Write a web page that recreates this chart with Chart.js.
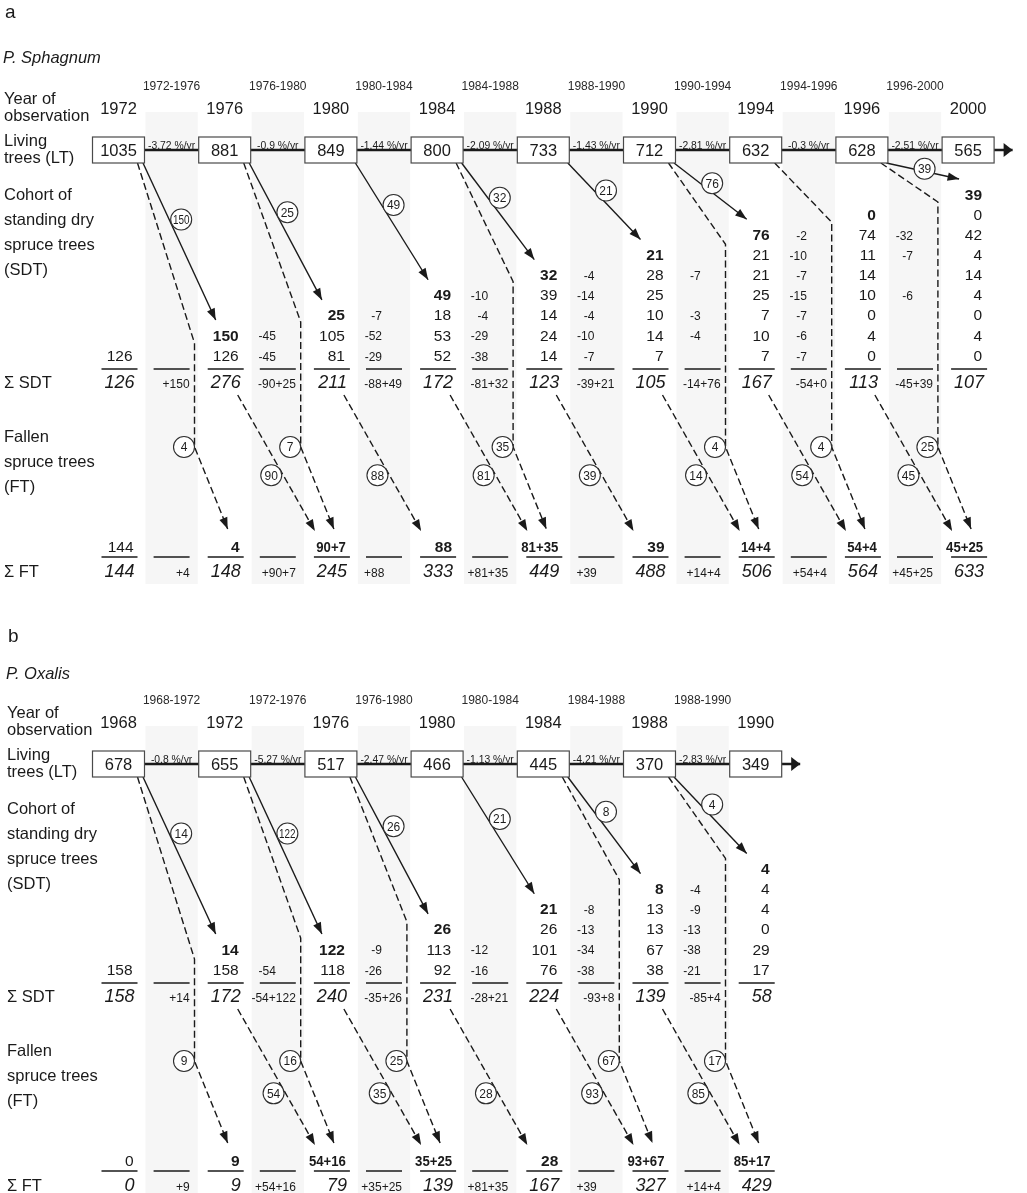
<!DOCTYPE html>
<html>
<head>
<meta charset="utf-8">
<title>Spruce tree dynamics</title>
<script src="https://cdn.jsdelivr.net/npm/chart.js@4/dist/chart.umd.min.js"></script>
<style>
  html, body { margin: 0; padding: 0; background: #fff; }
  #wrap { width: 1027px; height: 1193px; }
</style>
</head>
<body>
<div id="wrap"><canvas id="chart" width="1027" height="1193"></canvas></div>
<script>
// ---------- Plot a: P. Sphagnum ----------
const sphYears   = ['1972', '1976', '1980', '1984', '1988', '1990', '1994', '1996', '2000'];
const sphPeriods = ['1972-1976', '1976-1980', '1980-1984', '1984-1988', '1988-1990', '1990-1994', '1994-1996', '1996-2000'];
const sphLiving  = [1035, 881, 849, 800, 733, 712, 632, 628, 565];
const sphRates   = ['-3,72 %/yr', '-0,9 %/yr', '-1,44 %/yr', '-2,09 %/yr', '-1,43 %/yr', '-2,81 %/yr', '-0,3 %/yr', '-2,51 %/yr'];
// living trees that died standing in each period (new SDT cohort)
const sphNewDry     = [150, 25, 49, 32, 21, 76, 0, 39];
// living trees that fell directly in each period
const sphDirectFall = [4, 7, null, 35, null, 4, 4, 25];
// standing dry trees that fell in each period
const sphDryFall    = [null, 90, 88, 81, 39, 14, 54, 45];
// older SDT cohorts still standing in each year (last entry = oldest cohort)
const sphCohorts = [
  [126], [126], [105, 81], [18, 53, 52], [39, 14, 24, 14], [28, 25, 10, 14, 7],
  [21, 21, 25, 7, 10, 7], [74, 11, 14, 10, 0, 4, 0], [0, 42, 4, 14, 4, 0, 4, 0]
];
// losses of each cohort during a period (last entry = oldest cohort)
const sphCohortLoss = [
  [], [-45, -45], [-7, -52, -29], [-10, -4, -29, -38], [-4, -14, -4, -10, -7],
  [-7, null, -3, -4, null], [-2, -10, -7, -15, -7, -6, -7], [-32, -7, null, -6, null, null, null]
];
const sphDrySum      = [126, 276, 211, 172, 123, 105, 167, 113, 107];
const sphDryBalance  = ['+150', '-90+25', '-88+49', '-81+32', '-39+21', '-14+76', '-54+0', '-45+39'];
const sphFallenStart = 144;
const sphFallenSum   = [144, 148, 245, 333, 449, 488, 506, 564, 633];
const sphFallenAdded = ['+4', '+90+7', '+88', '+81+35', '+39', '+14+4', '+54+4', '+45+25'];

// ---------- Plot b: P. Oxalis ----------
const oxYears   = ['1968', '1972', '1976', '1980', '1984', '1988', '1990'];
const oxPeriods = ['1968-1972', '1972-1976', '1976-1980', '1980-1984', '1984-1988', '1988-1990'];
const oxLiving  = [678, 655, 517, 466, 445, 370, 349];
const oxRates   = ['-0,8 %/yr', '-5,27 %/yr', '-2,47 %/yr', '-1,13 %/yr', '-4,21 %/yr', '-2,83 %/yr'];
const oxNewDry     = [14, 122, 26, 21, 8, 4];
const oxDirectFall = [9, 16, 25, null, 67, 17];
const oxDryFall    = [null, 54, 35, 28, 93, 85];
const oxCohorts = [
  [158], [158], [118], [113, 92], [26, 101, 76], [13, 13, 67, 38], [4, 4, 0, 29, 17]
];
const oxCohortLoss = [
  [], [-54], [-9, -26], [-12, -16], [-8, -13, -34, -38], [-4, -9, -13, -38, -21]
];
const oxDrySum      = [158, 172, 240, 231, 224, 139, 58];
const oxDryBalance  = ['+14', '-54+122', '-35+26', '-28+21', '-93+8', '-85+4'];
const oxFallenStart = 0;
const oxFallenSum   = [0, 9, 79, 139, 167, 327, 429];
const oxFallenAdded = ['+9', '+54+16', '+35+25', '+81+35', '+39', '+14+4'];

// row captions on the left
const rowTitles = ['Year of', 'observation', 'Living', 'trees (LT)', 'Cohort of', 'standing dry',
                   'spruce trees', '(SDT)', '\u03A3 SDT', 'Fallen', 'spruce trees', '(FT)', '\u03A3 FT'];

// ---------- layout ----------
const W = 1027, H = 1193;
const FONT = '"Liberation Sans", Arial, Helvetica, sans-serif';
const INK = '#1a1a1a';
const PX = 106.2;          // pixel width of one observation column
const X0 = 118.5;          // pixel centre of the first observation column
const ROW0 = 194, ROWH = 20.15;
const titleY = [98, 115, 140, 157, 194, 219, 244, 269, 382, 436, 461, 486, 571];

const panels = [
  { letter: 'a', letterX: 5, letterY: 18, site: 'P. Sphagnum', siteX: 3, siteY: 57, top: 0, labelX: 4,
    years: sphYears, periods: sphPeriods, living: sphLiving, rates: sphRates,
    newDry: sphNewDry, directFall: sphDirectFall, dryFall: sphDryFall,
    cohorts: sphCohorts, loss: sphCohortLoss, drySum: sphDrySum, dryBalance: sphDryBalance,
    fallenStart: sphFallenStart, fallenSum: sphFallenSum, fallenAdded: sphFallenAdded,
    bend: [8, 7, 8, 7, 8, 10, 8, 8], addedLeft: [2, 4], fallCircle: 0.59 },
  { letter: 'b', letterX: 8, letterY: 642, site: 'P. Oxalis', siteX: 6, siteY: 673, top: 614, labelX: 7,
    years: oxYears, periods: oxPeriods, living: oxLiving, rates: oxRates,
    newDry: oxNewDry, directFall: oxDirectFall, dryFall: oxDryFall,
    cohorts: oxCohorts, loss: oxCohortLoss, drySum: oxDrySum, dryBalance: oxDryBalance,
    fallenStart: oxFallenStart, fallenSum: oxFallenSum, fallenAdded: oxFallenAdded,
    bend: [10, -11, -7, 0, -9, -10], addedLeft: [4], fallCircle: 0.62 }
];

// x values are in column units: column i sits at i, a period between i and i+1 at i+0.5
const xv = (i, px) => i + (px || 0) / PX;
const rowY = (p, k) => p.top + ROW0 + ROWH * k;
const newRow = (p, j) => 8 - p.cohorts[j].length;   // row of the newest cohort in column j

function lineSet(points, o) {
  return {
    data: points, showLine: true, pointRadius: 0, pointHitRadius: 0,
    borderColor: INK, borderWidth: o.width || 1.4, borderDash: o.dash ? [7, 3.5] : [],
    fill: false, tension: 0, order: 2, head: o.head || null
  };
}

const datasets = [];
const circles = [];
panels.forEach(p => {
  const t = p.top, n = p.years.length;
  // living-tree time axis
  datasets.push(lineSet([{ x: xv(0), y: t + 150 }, { x: xv(n - 1, 44.5), y: t + 150 }], { width: 2.6, head: 'axis' }));
  for (let i = 0; i < n - 1; i++) {
    const by = rowY(p, newRow(p, i + 1));
    if (p.newDry[i] > 0) {
      const a = { x: xv(i, 24.5), y: t + 163 }, b = { x: xv(i + 1, -9), y: by - 15 };
      datasets.push(lineSet([a, b], { head: 'arrow' }));
      circles.push({ x: a.x + 0.36 * (b.x - a.x) + 12 / PX, y: a.y + 0.36 * (b.y - a.y), label: p.newDry[i] });
    }
    if (p.directFall[i] != null) {
      const bx = xv(i, 76);
      datasets.push(lineSet([
        { x: xv(i, 19), y: t + 163 }, { x: bx, y: by + p.bend[i] },
        { x: bx, y: t + 447 }, { x: xv(i + 1, 3), y: t + 529 }
      ], { dash: true, head: 'arrow' }));
      circles.push({ x: xv(i, 65.5), y: t + 447, label: p.directFall[i] });
    }
    if (p.dryFall[i] != null) {
      const a = { x: xv(i, 13), y: t + 395 }, b = { x: xv(i + 1, -16), y: t + 531 };
      datasets.push(lineSet([a, b], { dash: true, head: 'arrow' }));
      const f = p.fallCircle;
      circles.push({ x: a.x + f * (b.x - a.x) - 12 / PX, y: a.y + f * (b.y - a.y), label: p.dryFall[i] });
    }
  }
});
datasets.push({
  data: circles, showLine: false, pointRadius: 10.5, pointHoverRadius: 10.5,
  pointBackgroundColor: '#fff', pointBorderColor: '#2e2e2e', pointBorderWidth: 1.1, order: 0
});

function txt(ctx, s, x, y, o) {
  o = o || {};
  const size = o.size || 16;
  ctx.save();
  ctx.font = (o.italic ? 'italic ' : '') + (o.bold ? 'bold ' : '') + size + 'px ' + FONT;
  ctx.fillStyle = o.color || INK;
  ctx.textAlign = o.align || 'center';
  ctx.textBaseline = 'alphabetic';
  let sq = o.squeeze || 1;
  if (o.maxW) {
    const w = ctx.measureText(String(s)).width;
    if (w > o.maxW) sq = o.maxW / w;
  }
  ctx.translate(x, o.baseline ? y : y + size * 0.36);
  if (sq !== 1) ctx.scale(sq, 1);
  ctx.fillText(String(s), 0, 0);
  ctx.restore();
}

function hline(ctx, x1, x2, y) {
  ctx.save();
  ctx.strokeStyle = INK; ctx.lineWidth = 1.5;
  ctx.beginPath(); ctx.moveTo(x1, y); ctx.lineTo(x2, y); ctx.stroke();
  ctx.restore();
}

function head(ctx, x1, y1, x2, y2, len, half) {
  const dx = x2 - x1, dy = y2 - y1, d = Math.hypot(dx, dy);
  const ux = dx / d, uy = dy / d;
  ctx.save();
  ctx.fillStyle = INK;
  ctx.beginPath();
  ctx.moveTo(x2, y2);
  ctx.lineTo(x2 - len * ux - half * uy, y2 - len * uy + half * ux);
  ctx.lineTo(x2 - len * ux + half * uy, y2 - len * uy - half * ux);
  ctx.closePath();
  ctx.fill();
  ctx.restore();
}

const diagram = {
  id: 'diagram',
  beforeDatasetsDraw(chart) {
    const ctx = chart.ctx, X = v => chart.scales.x.getPixelForValue(v), Y = v => chart.scales.y.getPixelForValue(v);
    ctx.save();
    ctx.fillStyle = '#f6f6f6';
    panels.forEach(p => {
      for (let i = 0; i < p.years.length - 1; i++) {
        const x1 = X(xv(i, 27)), x2 = X(xv(i + 1, -27));
        ctx.fillRect(x1, Y(p.top + 112), x2 - x1, Y(p.top + 584) - Y(p.top + 112));
      }
    });
    ctx.restore();
  },
  afterDatasetsDraw(chart) {
    const ctx = chart.ctx, X = v => chart.scales.x.getPixelForValue(v), Y = v => chart.scales.y.getPixelForValue(v);

    // arrowheads at the ends of the flow lines
    chart.data.datasets.forEach((ds, k) => {
      if (!ds.head) return;
      const pts = chart.getDatasetMeta(k).data;
      const a = pts[pts.length - 2], b = pts[pts.length - 1];
      if (ds.head === 'axis') head(ctx, a.x, a.y, b.x, b.y, 9, 7);
      else head(ctx, a.x, a.y, b.x, b.y, 11.5, 4.2);
    });

    panels.forEach(p => {
      const t = p.top, n = p.years.length;
      txt(ctx, p.letter, p.letterX, Y(p.letterY), { size: 19, align: 'left', baseline: true });
      txt(ctx, p.site, p.siteX, Y(p.siteY), { size: 16.5, italic: true, align: 'left' });
      rowTitles.forEach((s, k) => txt(ctx, s, p.labelX, Y(t + titleY[k]), { size: 16.5, align: 'left' }));

      for (let j = 0; j < n; j++) {
        const cx = X(xv(j));
        // living trees box
        const bx1 = X(xv(j, -26)), bx2 = X(xv(j, 26)), by1 = Y(t + 137), by2 = Y(t + 163);
        ctx.save();
        ctx.fillStyle = '#fff'; ctx.strokeStyle = '#4a4a4a'; ctx.lineWidth = 1.2;
        ctx.fillRect(bx1, by1, bx2 - bx1, by2 - by1);
        ctx.strokeRect(bx1, by1, bx2 - bx1, by2 - by1);
        ctx.restore();
        txt(ctx, p.living[j], cx, Y(t + 150), { size: 16.5 });
        txt(ctx, p.years[j], cx, Y(t + 108), { size: 16.5 });

        // standing dry trees
        const col = p.cohorts[j];
        const first = 9 - col.length;
        if (j > 0) txt(ctx, p.newDry[j - 1], cx + 14, Y(rowY(p, first - 1)), { size: 15.5, bold: true, align: 'right' });
        col.forEach((v, m) => txt(ctx, v, cx + 14, Y(rowY(p, first + m)), { size: 15.5, align: 'right' }));
        hline(ctx, cx + 1 - 18, cx + 1 + 18, Y(t + 369));
        txt(ctx, p.drySum[j], cx + 16, Y(t + 382), { size: 18, italic: true, align: 'right' });

        // fallen trees
        const ft = j === 0 ? String(p.fallenStart)
          : [p.dryFall[j - 1], p.directFall[j - 1]].filter(v => v != null).join('+');
        txt(ctx, ft, cx + 15, Y(t + 546), { size: 15.5, bold: j > 0, align: 'right', squeeze: ft.indexOf('+') >= 0 ? 0.85 : 1 });
        hline(ctx, cx + 1 - 18, cx + 1 + 18, Y(t + 557));
        txt(ctx, p.fallenSum[j], cx + 16, Y(t + 571), { size: 18, italic: true, align: 'right' });
      }

      for (let i = 0; i < n - 1; i++) {
        const mx = X(xv(i + 0.5));
        txt(ctx, p.periods[i], mx, Y(t + 86), { size: 12, color: '#2a2a2a' });
        txt(ctx, p.rates[i], mx, Y(t + 145), { size: 11.5, squeeze: 0.9 });
        const loss = p.loss[i], first = 9 - loss.length;
        loss.forEach((v, m) => { if (v != null) txt(ctx, v, mx - 2, Y(rowY(p, first + m) + 1), { size: 12, align: 'right' }); });
        hline(ctx, mx - 18, mx + 18, Y(t + 369));
        txt(ctx, p.dryBalance[i], mx + 18, Y(t + 384), { size: 12, align: 'right' });
        hline(ctx, mx - 18, mx + 18, Y(t + 557));
        const left = p.addedLeft.indexOf(i) >= 0;
        txt(ctx, p.fallenAdded[i], left ? mx - 20 : mx + 18, Y(t + 573), { size: 12, align: left ? 'left' : 'right' });
      }
    });

    // numbers inside the flow circles
    const ci = chart.data.datasets.length - 1;
    chart.getDatasetMeta(ci).data.forEach((el, k) => {
      txt(ctx, circles[k].label, el.x, el.y, { size: 12, maxW: 16.5, color: '#1e1e1e' });
    });
  }
};

new Chart(document.getElementById('chart'), {
  type: 'scatter',
  data: { datasets },
  options: {
    responsive: false,
    maintainAspectRatio: false,
    devicePixelRatio: 1,
    animation: false,
    events: [],
    layout: { padding: 0, autoPadding: false },
    plugins: { legend: { display: false }, tooltip: { enabled: false } },
    scales: {
      x: { type: 'linear', display: false, min: -X0 / PX, max: (W - X0) / PX },
      y: { type: 'linear', display: false, reverse: true, min: 0, max: H }
    }
  },
  plugins: [diagram]
});
</script>
</body>
</html>
